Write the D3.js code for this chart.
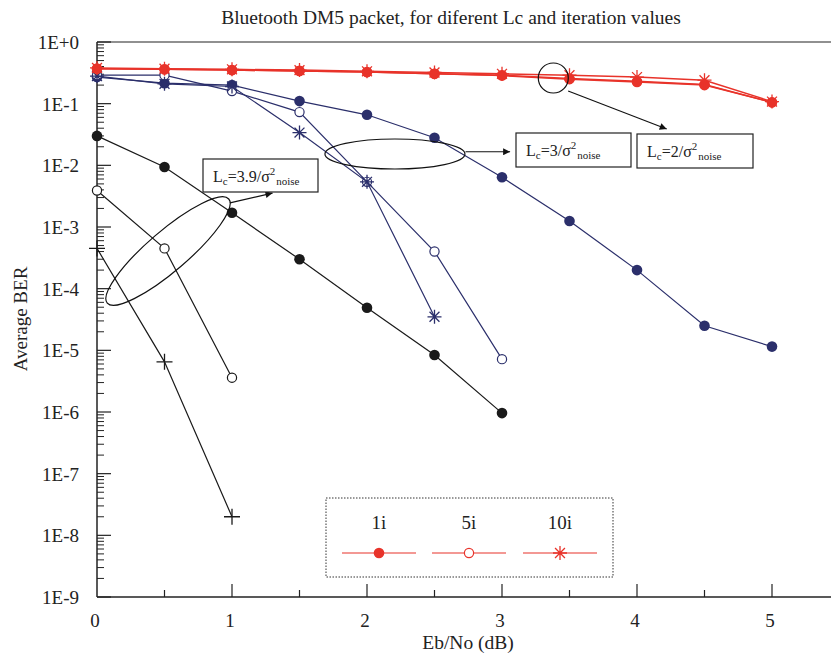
<!DOCTYPE html>
<html>
<head>
<meta charset="utf-8">
<script src="https://cdnjs.cloudflare.com/ajax/libs/d3/7.8.5/d3.min.js"></script>
<style>
  body { margin: 0; background: #fff; }
  svg { font-family: "Liberation Serif", "DejaVu Serif", serif; fill: #222; }
</style>
</head>
<body>
<svg id="chart" width="831" height="657"></svg>
<script>
// Eb/No values (dB)
const ebno = [0, 0.5, 1, 1.5, 2, 2.5, 3, 3.5, 4, 4.5, 5];

// Lc = 3.9 / sigma^2 (black)
const lc39_1i = [3.0e-2, 9.4e-3, 1.7e-3, 3.0e-4, 4.9e-5, 8.4e-6, 9.6e-7];
const lc39_5i = [3.9e-3, 4.5e-4, 3.6e-6];
const lc39_10i = [4.5e-4, 6.5e-6, 2.0e-8];

// Lc = 3 / sigma^2 (navy)
const lc3_1i = [0.27, 0.215, 0.20, 0.11, 0.066, 0.028, 6.4e-3, 1.25e-3, 2.0e-4, 2.5e-5, 1.15e-5];
const lc3_5i = [0.29, 0.29, 0.16, 0.073, 5.4e-3, 4.0e-4, 7.2e-6];
const lc3_10i = [0.28, 0.21, 0.19, 0.034, 5.4e-3, 3.5e-5];

// Lc = 2 / sigma^2 (red)
const lc2_1i = [0.37, 0.36, 0.35, 0.34, 0.325, 0.305, 0.285, 0.25, 0.225, 0.20, 0.105];
const lc2_5i = [0.37, 0.36, 0.35, 0.34, 0.325, 0.305, 0.29, 0.255, 0.23, 0.205, 0.105];
const lc2_10i = [0.38, 0.37, 0.36, 0.35, 0.335, 0.32, 0.305, 0.29, 0.27, 0.24, 0.108];

const yTickLabels = ["1E-9", "1E-8", "1E-7", "1E-6", "1E-5", "1E-4", "1E-3", "1E-2", "1E-1", "1E+0"];
const xTickLabels = ["0", "1", "2", "3", "4", "5"];
const legendLabels = ["1i", "5i", "10i"];

const navy = "#2b2f6b", red = "#e8332a", black = "#1a1a1a";

const series = [
  { vals: lc39_1i, color: black, marker: "filled" },
  { vals: lc39_5i, color: black, marker: "open" },
  { vals: lc39_10i, color: black, marker: "plus" },
  { vals: lc3_1i, color: navy, marker: "filled" },
  { vals: lc3_5i, color: navy, marker: "open" },
  { vals: lc3_10i, color: navy, marker: "star" },
  { vals: lc2_5i, color: red, marker: "open" },
  { vals: lc2_1i, color: red, marker: "filled" },
  { vals: lc2_10i, color: red, marker: "star" }
];

const svg = d3.select("#chart");
const plotLeft = 97, plotRight = 831, plotTop = 42, plotBottom = 597;

const x = d3.scaleLinear().domain([0, (plotRight - plotLeft) / 135]).range([plotLeft, plotRight]);
const y = d3.scaleLog().domain([1e-9, 1]).range([plotBottom, plotTop]);

// title
svg.append("text")
  .attr("x", 451).attr("y", 24)
  .attr("text-anchor", "middle")
  .style("font-size", "19.5px")
  .text("Bluetooth DM5 packet, for diferent Lc and iteration values");

// frame lines
svg.append("line").attr("x1", plotLeft).attr("x2", plotRight).attr("y1", plotTop).attr("y2", plotTop)
  .attr("stroke", "#222").attr("stroke-width", 1.2);
svg.append("line").attr("x1", plotLeft).attr("x2", plotRight).attr("y1", plotBottom).attr("y2", plotBottom)
  .attr("stroke", "#222").attr("stroke-width", 1.5);
svg.append("line").attr("x1", plotLeft).attr("x2", plotLeft).attr("y1", plotTop).attr("y2", plotBottom)
  .attr("stroke", "#222").attr("stroke-width", 1.5);

// y ticks (inside)
const yMajor = d3.range(-9, 1).map(e => Math.pow(10, e));
const yMinor = [];
for (let e = -9; e < 0; e++) {
  for (let m = 2; m <= 9; m++) yMinor.push(m * Math.pow(10, e));
}
svg.selectAll(".ymin").data(yMinor).enter().append("line")
  .attr("x1", plotLeft).attr("x2", plotLeft + 7)
  .attr("y1", d => y(d)).attr("y2", d => y(d))
  .attr("stroke", "#222").attr("stroke-width", 1);
svg.selectAll(".ymaj").data(yMajor).enter().append("line")
  .attr("x1", plotLeft).attr("x2", plotLeft + 14)
  .attr("y1", d => y(d)).attr("y2", d => y(d))
  .attr("stroke", "#222").attr("stroke-width", 1.2);
svg.selectAll(".ylab").data(yMajor).enter().append("text")
  .attr("x", 79).attr("y", d => y(d) + 7)
  .attr("text-anchor", "end")
  .style("font-size", "19px")
  .text((d, i) => yTickLabels[i]);

// x ticks (inside)
const xMajor = d3.range(0, 6);
const xMinor = [0.5, 1.5, 2.5, 3.5, 4.5];
svg.selectAll(".xmaj").data(xMajor.slice(1)).enter().append("line")
  .attr("x1", d => x(d)).attr("x2", d => x(d))
  .attr("y1", plotBottom).attr("y2", plotBottom - 13)
  .attr("stroke", "#222").attr("stroke-width", 1.2);
svg.selectAll(".xmin").data(xMinor).enter().append("line")
  .attr("x1", d => x(d)).attr("x2", d => x(d))
  .attr("y1", plotBottom).attr("y2", plotBottom - 7)
  .attr("stroke", "#222").attr("stroke-width", 1.2);
svg.selectAll(".xlab").data(xMajor).enter().append("text")
  .attr("x", d => x(d) - 2).attr("y", 627)
  .attr("text-anchor", "middle")
  .style("font-size", "19px")
  .text((d, i) => xTickLabels[i]);

svg.append("text")
  .attr("x", 468).attr("y", 649)
  .attr("text-anchor", "middle")
  .style("font-size", "19.5px")
  .text("Eb/No (dB)");

svg.append("text")
  .attr("transform", "translate(27,319) rotate(-90)")
  .attr("text-anchor", "middle")
  .style("font-size", "19px")
  .text("Average BER");

// markers
function drawMarker(g, type, color, px, py) {
  if (type === "filled") {
    g.append("circle").attr("cx", px).attr("cy", py).attr("r", 5.3)
      .attr("fill", color);
  } else if (type === "open") {
    g.append("circle").attr("cx", px).attr("cy", py).attr("r", 4.6)
      .attr("fill", "#fff").attr("stroke", color).attr("stroke-width", 1.2);
  } else if (type === "plus") {
    g.append("path")
      .attr("d", `M${px - 8},${py}H${px + 8}M${px},${py - 8}V${py + 8}`)
      .attr("stroke", color).attr("stroke-width", 1.3);
  } else if (type === "star") {
    const r = 7, k = r * Math.SQRT1_2;
    g.append("path")
      .attr("d", `M${px - r},${py}H${px + r}M${px},${py - r}V${py + r}` +
        `M${px - k},${py - k}L${px + k},${py + k}M${px - k},${py + k}L${px + k},${py - k}`)
      .attr("stroke", color).attr("stroke-width", 1.3);
  }
}

const line = d3.line().x((d, i) => x(ebno[i])).y(d => y(d));

series.forEach(s => {
  const g = svg.append("g");
  g.append("path").datum(s.vals)
    .attr("d", line)
    .attr("fill", "none")
    .attr("stroke", s.color)
    .attr("stroke-width", s.color === red ? 1.5 : 1.2);
  s.vals.forEach((v, i) => drawMarker(g, s.marker, s.color, x(ebno[i]), y(v)));
});

// annotations
svg.append("defs").append("marker")
  .attr("id", "arrow").attr("viewBox", "0 0 10 10")
  .attr("refX", 10).attr("refY", 5)
  .attr("markerWidth", 12).attr("markerHeight", 7)
  .attr("markerUnits", "userSpaceOnUse")
  .attr("orient", "auto")
  .append("path").attr("d", "M0,0L10,5L0,10Z").attr("fill", "#111");

function lcLabel(bx, by, w, h, coef) {
  svg.append("rect").attr("x", bx).attr("y", by).attr("width", w).attr("height", h)
    .attr("fill", "#fff").attr("stroke", "#222").attr("stroke-width", 1.2);
  const t = svg.append("text")
    .attr("x", bx + 10).attr("y", by + h / 2 + 6)
    .style("font-size", "16px");
  t.append("tspan").text("L");
  t.append("tspan").attr("dy", 3).style("font-size", "11px").text("c");
  t.append("tspan").attr("dy", -3).text("=" + coef + "/σ");
  t.append("tspan").attr("dy", -7).style("font-size", "11px").text("2");
  t.append("tspan").attr("dy", 10).attr("dx", 1).style("font-size", "11px").text("noise");
}

// Lc = 3.9 group
svg.append("ellipse")
  .attr("transform", `translate(${x(0.526)},${y(Math.pow(10, -3.39))}) rotate(-40.6)`)
  .attr("rx", 80).attr("ry", 20)
  .attr("fill", "none").attr("stroke", "#111").attr("stroke-width", 1.2);
svg.append("line")
  .attr("x1", x(0.985)).attr("y1", y(Math.pow(10, -2.61)))
  .attr("x2", x(1.3)).attr("y2", y(Math.pow(10, -2.45)))
  .attr("stroke", "#111").attr("stroke-width", 1.2).attr("marker-end", "url(#arrow)");
lcLabel(203, 159, 115, 33, "3.9");

// Lc = 3 group
svg.append("ellipse")
  .attr("cx", x(2.207)).attr("cy", y(Math.pow(10, -1.816)))
  .attr("rx", 70).attr("ry", 15)
  .attr("fill", "none").attr("stroke", "#111").attr("stroke-width", 1.2);
svg.append("line")
  .attr("x1", x(2.73)).attr("y1", y(Math.pow(10, -1.78)))
  .attr("x2", x(3.06)).attr("y2", y(Math.pow(10, -1.78)))
  .attr("stroke", "#111").attr("stroke-width", 1.2).attr("marker-end", "url(#arrow)");
lcLabel(516, 133, 115, 34, "3");

// Lc = 2 group
svg.append("circle")
  .attr("cx", x(3.38)).attr("cy", y(Math.pow(10, -0.584)))
  .attr("r", 15)
  .attr("fill", "none").attr("stroke", "#111").attr("stroke-width", 1.2);
svg.append("line")
  .attr("x1", x(3.49)).attr("y1", y(Math.pow(10, -0.795)))
  .attr("x2", x(4.22)).attr("y2", y(Math.pow(10, -1.41)))
  .attr("stroke", "#111").attr("stroke-width", 1.2).attr("marker-end", "url(#arrow)");
lcLabel(637, 134, 116, 34, "2");

// legend
const lg = svg.append("g");
lg.append("rect").attr("x", 326).attr("y", 498).attr("width", 287).attr("height", 79)
  .attr("fill", "#fff").attr("stroke", "#333").attr("stroke-width", 1)
  .attr("stroke-dasharray", "1.5,1.5");
const legendMarkers = ["filled", "open", "star"];
const legendX = [379, 469, 560];
legendLabels.forEach((lab, i) => {
  lg.append("text").attr("x", legendX[i]).attr("y", 529)
    .attr("text-anchor", "middle").style("font-size", "19px").text(lab);
  lg.append("line").attr("x1", legendX[i] - 37).attr("x2", legendX[i] + 37)
    .attr("y1", 553).attr("y2", 553)
    .attr("stroke", red).attr("stroke-width", 1.2);
  drawMarker(lg, legendMarkers[i], red, legendX[i], 553);
});
</script>
</body>
</html>
